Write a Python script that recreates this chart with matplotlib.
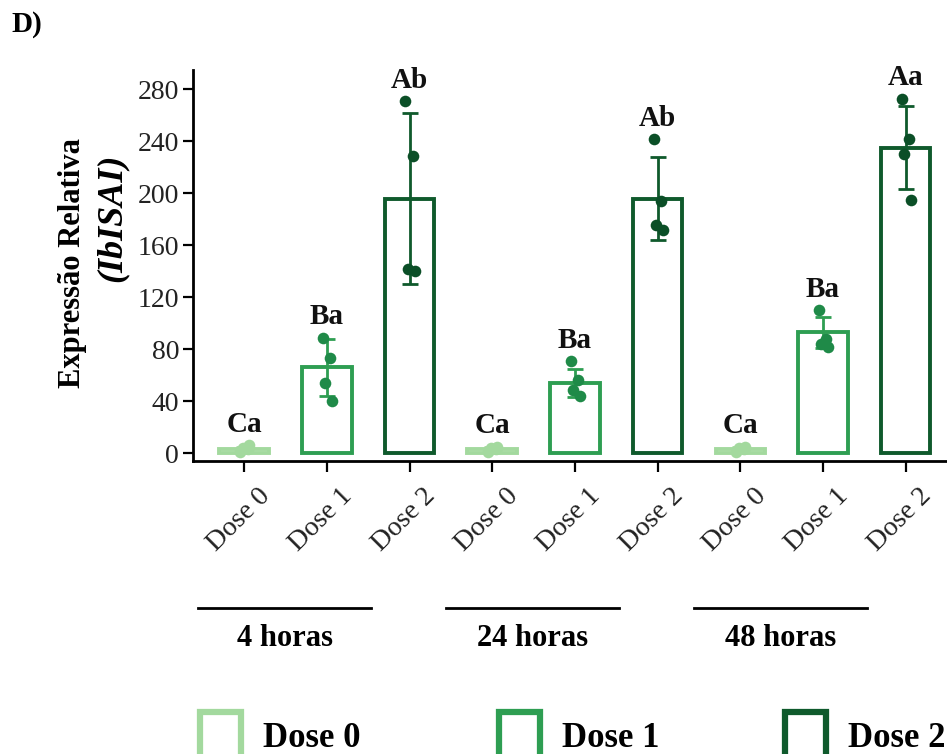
import numpy as np
import matplotlib
matplotlib.use('Agg')
from matplotlib import pyplot as plt
from matplotlib.patches import Rectangle
from matplotlib import transforms

plt.rcParams['font.family'] = ['Liberation Serif', 'DejaVu Serif']

## dados
grupos = ['4 horas', '24 horas', '48 horas']
doses = ['Dose 0', 'Dose 1', 'Dose 2']

media_4h = [3, 66, 196]
media_24h = [3, 54, 196]
media_48h = [3, 93, 235]

dp_4h = [1.5, 22, 66]
dp_24h = [1.5, 11, 32]
dp_48h = [1.5, 12, 32]

pts_4h = [[1, 3, 4, 6], [89, 73, 54, 40], [271, 229, 142, 140]]
pts_24h = [[1, 3, 4, 5], [71, 56, 49, 44], [242, 194, 176, 172]]
pts_48h = [[1, 3, 4, 5], [110, 88, 84, 82], [273, 242, 230, 195]]

letras_4h = ['Ca', 'Ba', 'Ab']
letras_24h = ['Ca', 'Ba', 'Ab']
letras_48h = ['Ca', 'Ba', 'Aa']

yticks = [0, 40, 80, 120, 160, 200, 240, 280]

## estilo
cor_barra = ['#a3d99e', '#2e9e52', '#0f5a2c']
cor_ponto = ['#a3d99e', '#1f8a48', '#0b4f27']
jit = [-0.05, 0.04, -0.02, 0.06]

medias = [media_4h, media_24h, media_48h]
dps = [dp_4h, dp_24h, dp_48h]
pts = [pts_4h, pts_24h, pts_48h]
letras = [letras_4h, letras_24h, letras_48h]

fig = plt.figure(figsize=(9.47, 7.54), dpi=100)
ax = fig.add_axes([0.2038, 0.3886, 0.7962, 0.5186])

xpos = []
xlab = []
for g in range(3):
    for d in range(3):
        x = g * 3 + d
        xpos.append(x)
        xlab.append(doses[d])
        m = medias[g][d]
        s = dps[g][d]
        ax.bar(x, m, width=0.6, facecolor='white', edgecolor=cor_barra[d],
               linewidth=2.8, zorder=2)
        ax.errorbar(x, m, yerr=s, color=cor_barra[d], elinewidth=2,
                    capsize=6, capthick=2, zorder=3)
        p = pts[g][d]
        ax.scatter(np.array([x] * len(p)) + np.array(jit[:len(p)]), p,
                   s=70, color=cor_ponto[d], zorder=4, linewidths=0)
        topo = max(max(p), m + s)
        ax.text(x, topo + 16, letras[g][d], ha='center', va='center',
                fontsize=21, fontweight='bold', color='#111111')

ax.set_xlim(-0.62, 8.5)
ax.set_ylim(-6, 295)
ax.set_yticks(yticks)
ax.set_xticks(xpos)
ax.set_xticklabels(xlab, rotation=45, ha='right', va='top',
                   rotation_mode='anchor', fontsize=20, color='#222222')
ax.tick_params(axis='y', labelsize=20, labelcolor='#222222', length=7,
               width=1.6, pad=3)
ax.tick_params(axis='x', length=8, width=1.6, pad=8)
off = transforms.ScaledTranslation(0.13, 0, fig.dpi_scale_trans)
for lb in ax.get_xticklabels():
    lb.set_transform(lb.get_transform() + off)

ax.spines['top'].set_visible(False)
ax.spines['right'].set_visible(False)
ax.spines['left'].set_linewidth(2)
ax.spines['bottom'].set_linewidth(2)

## rotulo do eixo y
fig.text(0.077, 0.651, 'Expressão Relativa', rotation=90, ha='center',
         va='center', fontsize=22, fontweight='bold')
fig.text(0.118, 0.711, '(IbISAI)', rotation=90, ha='center', va='center',
         fontsize=26, fontweight='bold', style='italic')

fig.text(0.012, 0.967, 'D)', ha='left', va='center', fontsize=21,
         fontweight='bold')

## linhas dos grupos
tr = transforms.blended_transform_factory(ax.transData, fig.transFigure)
for g in range(3):
    c = g * 3 + 1 - 0.51
    ax.plot([c - 1.045, c + 1.045], [0.1936, 0.1936], color='black',
            linewidth=2, transform=tr, clip_on=False)
    ax.text(c, 0.153, grupos[g], ha='center', va='center', fontsize=22,
            fontweight='bold', transform=tr)

## legenda
leg_x = [198, 497, 783]
for d in range(3):
    fig.patches.append(Rectangle((leg_x[d] / 947 + 0.002, -0.01), 0.043, 0.066,
                                 facecolor='white', edgecolor=cor_barra[d],
                                 linewidth=4.5, transform=fig.transFigure))
    fig.text((leg_x[d] + 65) / 947, 0.02, doses[d], ha='left', va='center',
             fontsize=25, fontweight='bold')

plt.savefig('out.png', dpi=100)
